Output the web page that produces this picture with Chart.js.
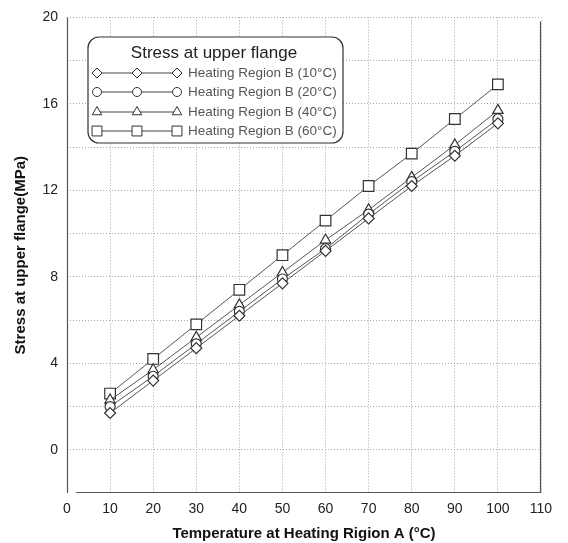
<!DOCTYPE html>
<html>
<head>
<meta charset="utf-8">
<script src="https://cdn.jsdelivr.net/npm/chart.js@4.4.0/dist/chart.umd.min.js"></script>
<style>
  html, body { margin: 0; padding: 0; background: #fff; }
  #wrap { width: 568px; height: 543px; }
</style>
</head>
<body>
<div id="wrap"><canvas id="Chart" width="568" height="543"></canvas></div>
<script>
// temperatures at heating region A (x axis)
const tempsA = [10, 20, 30, 40, 50, 60, 70, 80, 90, 100];
// stress values, MPa
const stressB10 = [1.7, 3.2, 4.7, 6.2, 7.7, 9.2, 10.7, 12.2, 13.6, 15.1];
const stressB20 = [2.0, 3.4, 4.9, 6.4, 7.9, 9.3, 10.9, 12.4, 13.8, 15.3];
const stressB40 = [2.3, 3.7, 5.2, 6.7, 8.2, 9.7, 11.1, 12.6, 14.1, 15.7];
const stressB60 = [2.6, 4.2, 5.8, 7.4, 9.0, 10.6, 12.2, 13.7, 15.3, 16.9];
const seriesNames = [
  "Heating Region B (10°C)",
  "Heating Region B (20°C)",
  "Heating Region B (40°C)",
  "Heating Region B (60°C)"
];
const yTickLabels = [0, 4, 8, 12, 16, 20];
const xTickLabels = [0, 10, 20, 30, 40, 50, 60, 70, 80, 90, 100, 110];

const markers = ["rectRot", "circle", "triangle", "rect"];
const markerSizes = [5.5, 5, 6, 7.5];
const allSeries = [stressB10, stressB20, stressB40, stressB60];
const FONT = "'Liberation Sans', Arial, sans-serif";

function toPoints(ys) {
  return tempsA.map((t, i) => ({ x: t, y: ys[i] }));
}

// draws a point marker with the same shape as chart.js points
function drawMarker(ctx, style, r, x, y) {
  Chart.helpers.drawPoint(ctx, { pointStyle: style, radius: r, borderWidth: 1.2 }, x, y);
}

const legendBox = {
  id: "legendBox",
  afterDatasetsDraw(chart) {
    const ctx = chart.ctx;
    ctx.save();
    const x0 = 88, y0 = 37, w = 255, h = 106, rad = 11;
    ctx.beginPath();
    ctx.roundRect(x0, y0, w, h, rad);
    ctx.fillStyle = "#fff";
    ctx.fill();
    ctx.lineWidth = 1.2;
    ctx.strokeStyle = "#333";
    ctx.stroke();

    ctx.fillStyle = "#222";
    ctx.font = "17px " + FONT;
    ctx.textAlign = "center";
    ctx.textBaseline = "middle";
    ctx.fillText("Stress at upper flange", 214, 53);

    const rows = [73, 92, 112, 131];
    rows.forEach((ry, i) => {
      ctx.strokeStyle = "#444";
      ctx.lineWidth = 1;
      ctx.beginPath();
      ctx.moveTo(97, ry);
      ctx.lineTo(177, ry);
      ctx.stroke();
      ctx.fillStyle = "#fff";
      ctx.strokeStyle = "#333";
      [97, 137, 177].forEach(mx => drawMarker(ctx, markers[i], markerSizes[i] - 0.5, mx, ry));
      ctx.fillStyle = "#555";
      ctx.font = "13.5px " + FONT;
      ctx.textAlign = "left";
      ctx.fillText(seriesNames[i], 188, ry);
    });
    ctx.restore();
  }
};

const frame = {
  id: "frame",
  afterDraw(chart) {
    const a = chart.chartArea, ctx = chart.ctx;
    ctx.save();
    ctx.strokeStyle = "#555";
    ctx.lineWidth = 1.2;
    ctx.beginPath();
    ctx.moveTo(a.left + 0.5, a.top);
    ctx.lineTo(a.left + 0.5, a.bottom);
    ctx.moveTo(a.left + 9, a.bottom - 0.5);
    ctx.lineTo(a.right - 0.5, a.bottom - 0.5);
    ctx.lineTo(a.right - 0.5, a.top + 4);
    ctx.stroke();
    ctx.restore();
  }
};

const ctx = document.getElementById("Chart").getContext("2d");
new Chart(ctx, {
  type: "scatter",
  data: {
    datasets: allSeries.map((ys, i) => ({
      label: seriesNames[i],
      data: toPoints(ys),
      showLine: true,
      borderColor: "#555",
      borderWidth: 1,
      pointStyle: markers[i],
      pointRadius: markerSizes[i],
      pointBorderColor: "#333",
      pointBackgroundColor: "#fff",
      pointBorderWidth: 1.2
    }))
  },
  options: {
    responsive: false,
    animation: false,
    layout: { padding: { top: 16, right: 27, left: 0, bottom: 0 } },
    plugins: { legend: { display: false }, tooltip: { enabled: false } },
    scales: {
      x: {
        type: "linear",
        min: 0,
        max: 110,
        afterBuildTicks: s => { s.ticks = xTickLabels.map(v => ({ value: v })); },
        afterFit: s => { s.height = 50; },
        border: { display: false, dash: [1, 2] },
        grid: { color: "#a8a8a8", lineWidth: 1, drawTicks: false },
        ticks: {
          color: "#222",
          padding: 8,
          font: { size: 14, family: FONT }
        },
        title: {
          display: true,
          text: "Temperature at Heating Rigion A (°C)",
          color: "#111",
          padding: { top: 3, bottom: 0 },
          font: { size: 15, weight: "bold", family: FONT }
        }
      },
      y: {
        type: "linear",
        min: -2,
        max: 20,
        afterBuildTicks: s => {
          const t = [];
          for (let v = 0; v <= 20; v += 2) t.push({ value: v });
          s.ticks = t;
        },
        afterFit: s => { s.width = 67; },
        border: { display: false, dash: [1, 2] },
        grid: { color: "#a8a8a8", lineWidth: 1, drawTicks: false },
        ticks: {
          color: "#222",
          padding: 9,
          callback: v => (yTickLabels.includes(v) ? String(v) : ""),
          font: { size: 14, family: FONT }
        },
        title: {
          display: true,
          text: "Stress at upper flange(MPa)",
          color: "#111",
          padding: { top: 12, bottom: 0 },
          font: { size: 15, weight: "bold", family: FONT }
        }
      }
    }
  },
  plugins: [legendBox, frame]
});
</script>
</body>
</html>
